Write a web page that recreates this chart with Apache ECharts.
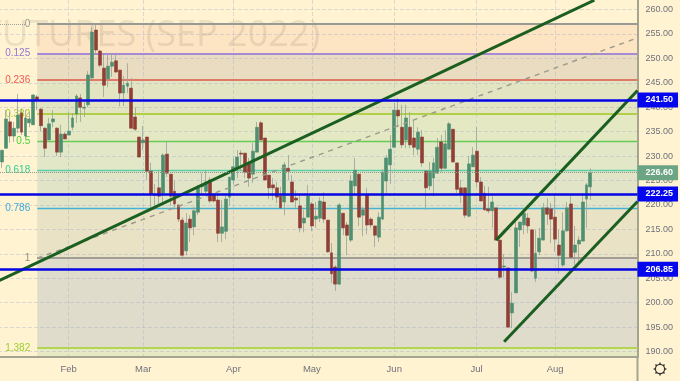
<!DOCTYPE html>
<html>
<head>
<meta charset="utf-8">
<script src="https://cdn.jsdelivr.net/npm/echarts@6/dist/echarts.min.js"></script>
<style>
  html, body { margin: 0; padding: 0; background: #fff3d1; overflow: hidden; }
  #main { width: 682px; height: 381px; margin-left: -2px; }
</style>
</head>
<body>
<div id="main"></div>
<script>
// tick labels
const monthIdx = [18, 37, 60, 80, 101, 122, 142];
const monthLabels = ['Feb', 'Mar', 'Apr', 'May', 'Jun', 'Jul', 'Aug'];
const priceTicks = [190, 195, 200, 205, 210, 215, 220, 225, 230, 235, 240, 245, 250, 255, 260];

// daily bars
const opens = [228.8,231.6,237.0,234.1,235.7,238.8,234.1,236.8,236.4,242.1,
  239.6,235.7,233.3,237.0,235.7,230.8,234.5,234.3,235.9,238.6,
  241.9,239.8,240.5,246.0,255.8,251.5,248.0,245.8,248.4,249.5,
  247.6,242.9,244.3,243.9,238.0,233.9,232.7,233.9,226.9,222.2,
  223.5,222.4,230.4,226.3,222.8,220.0,216.9,210.6,217.1,215.5,
  218.5,223.7,222.8,225.1,222.2,221.0,214.2,214.6,221.6,225.1,
  227.5,230.6,230.6,228.6,226.3,230.8,236.8,233.7,226.1,224.1,
  223.5,221.8,220.6,227.5,224.7,221.4,219.8,216.3,217.5,220.2,
  217.1,217.3,220.6,216.9,210.2,207.3,203.8,218.3,215.9,212.8,
  223.9,226.3,217.9,222.0,217.1,215.7,213.4,217.1,224.9,228.2,
  231.8,239.4,235.9,233.3,235.9,233.7,231.4,233.9,226.9,223.9,
  225.5,226.5,232.9,227.5,231.4,235.5,228.6,223.5,223.5,217.7,
  227.8,231.0,224.7,222.4,219.2,218.8,219.4,212.8,207.3,207.1,
  197.9,202.0,214.9,215.9,217.3,214.9,205.0,210.4,212.8,219.4,
  219.2,217.5,211.8,207.7,214.7,220.2,210.3,212.0,212.6,221.2,223.7];
const closes = [231.2,237.6,234.1,235.7,238.4,234.9,237.8,237.6,242.5,241.5,
  236.2,231.6,236.6,237.6,230.8,234.5,233.5,235.1,237.8,242.3,
  240.0,240.0,246.6,255.4,251.7,248.6,244.5,248.4,249.2,247.2,
  242.9,244.5,244.9,235.7,235.5,229.8,233.3,226.9,222.2,222.0,
  221.8,230.2,226.5,221.8,220.2,217.1,209.7,216.3,215.3,218.8,
  223.5,224.1,224.7,220.8,220.8,214.2,215.5,221.2,225.7,227.8,
  229.8,230.4,226.7,225.5,231.0,235.9,233.3,225.1,223.5,223.5,
  221.6,219.4,228.2,226.9,220.6,221.0,215.3,217.3,221.8,215.7,
  217.7,220.8,217.1,210.4,205.9,203.8,220.0,215.3,213.8,224.9,
  227.1,217.5,219.0,215.9,215.9,213.8,217.5,226.7,229.6,231.4,
  239.4,238.2,232.3,237.8,232.3,231.8,234.9,228.6,223.5,226.9,
  228.6,231.8,227.5,232.5,236.6,228.8,223.2,222.2,217.9,228.4,
  230.2,224.7,220.8,219.0,218.8,220.6,212.8,205.2,207.5,195.0,
  199.9,215.3,216.5,218.3,215.7,206.5,210.1,213.2,219.4,218.1,
  217.1,213.0,209.7,214.7,219.4,209.3,211.8,212.8,220.6,224.1,226.6];
const lows = [227.6,231.6,232.7,232.9,234.7,234.3,233.7,235.9,236.4,239.4,
  235.1,229.8,233.3,235.9,230.0,229.8,233.5,234.3,235.3,236.8,
  237.0,238.0,240.0,245.8,250.7,248.2,242.1,244.1,246.2,247.0,
  240.2,240.2,242.9,235.7,235.1,229.8,231.2,225.1,219.4,219.0,
  220.0,220.4,225.7,219.8,219.4,216.5,209.1,209.7,212.4,213.8,
  217.9,222.2,222.2,220.4,220.6,212.4,212.4,213.0,219.8,224.1,
  225.5,227.1,225.5,223.7,224.5,230.8,233.3,225.1,221.2,221.0,
  220.4,219.4,217.9,225.1,220.6,219.4,214.4,214.4,217.5,214.6,
  215.3,216.5,216.3,210.2,204.0,202.4,203.6,213.8,209.7,212.4,
  221.8,215.7,213.6,214.0,215.3,211.4,212.4,216.9,222.4,224.3,
  231.8,235.9,231.6,231.6,231.6,230.2,230.2,227.8,219.0,223.0,
  221.8,226.5,226.7,227.5,231.4,228.6,222.4,220.4,217.3,217.5,
  227.8,223.7,220.8,218.8,218.3,215.3,212.8,204.8,205.2,194.8,
  194.8,202.0,211.4,214.0,214.2,206.3,204.2,209.7,212.8,215.9,
  212.2,210.4,206.0,207.3,214.5,209.1,207.7,208.3,212.6,215.3,221.0];
const highs = [231.2,239.4,239.0,237.0,242.7,239.8,239.4,239.0,242.7,242.5,
  239.8,235.9,237.8,239.4,235.9,236.4,234.9,239.0,238.8,242.7,
  242.7,241.1,247.4,256.4,256.8,251.7,250.7,250.7,251.1,251.1,
  247.6,246.4,249.0,246.0,240.0,233.9,236.2,233.9,228.6,224.3,
  227.1,230.6,233.1,226.3,224.9,220.0,217.5,218.3,217.9,219.6,
  224.1,226.5,227.1,225.7,222.2,222.2,221.0,222.0,225.7,229.6,
  231.2,231.2,230.6,229.6,232.7,237.0,237.2,233.7,226.1,225.5,
  224.7,223.7,228.8,230.2,226.1,223.0,222.0,219.0,224.1,220.6,
  220.6,221.6,222.6,216.9,212.2,207.7,220.4,218.3,216.5,226.1,
  229.6,226.3,219.6,223.5,217.5,215.7,218.5,227.3,230.2,234.3,
  240.9,241.9,240.5,240.5,239.0,237.4,235.9,235.3,226.9,228.8,
  229.6,233.7,234.3,235.3,237.0,235.5,228.6,225.1,223.5,230.0,
  231.8,235.9,225.7,223.9,223.7,221.8,219.4,212.8,209.9,207.1,
  202.2,216.5,216.5,219.4,218.3,214.9,214.9,215.3,220.4,221.4,
  220.4,222.2,214.9,218.5,220.6,222.0,215.7,213.6,222.4,224.5,227.5];

// fib retracement levels
const fibNames = ['0', '0.125', '0.236', '0.382', '0.5', '0.618', '0.786', '1', '1.382'];
const fibValues = [257.0, 250.95, 245.6, 238.6, 233.0, 227.2, 219.3, 209.1, 190.7];
const fibColors = ['#9a9a94', '#a58ad6', '#e07a68', '#b0d04a', '#66cc55', '#58cfa6', '#45b3d3', '#a09e96', '#b3d455'];
const fibLabelColors = ['#9a9a94', '#9478d8', '#ee5a50', '#a8cc30', '#44d038', '#30cc98', '#42a8dc', '#8e8e88', '#9cce30'];
const fibBands = ['#fde4c2', '#e9dcc0', '#e3e4c1', '#e4e9c4', '#e1e7c7', '#e2e4c8', '#e9e2c5', '#dfdccc', '#e6e9c4'];

// horizontal price levels with tags
const blueLevels = [241.5, 222.25, 206.85];
const lastPrice = 226.6;

// drawn lines, [bar index, price]
const trendA = [[0, 204.4], [152, 261.9]];
const trendB = [[127, 212.8], [163, 243.4]];
const trendC = [[129, 192.0], [163, 220.7]];
const dashedFan = [[10, 209.1], [163, 254.2]];

const BAR_SLOTS = 164;
const categories = Array.from({ length: BAR_SLOTS }, (_, i) => {
  const k = monthIdx.indexOf(i);
  return k >= 0 ? monthLabels[k] : '';
});
const isMonth = (i) => monthIdx.includes(i);

const blank = ['-', '-', '-', '-'];
const wicks = [blank].concat(opens.map((o, i) => [o, closes[i], lows[i], highs[i]]));
const bodies = [blank].concat(opens.map((o, i) => [o, closes[i], Math.min(o, closes[i]), Math.max(o, closes[i])]));

const AXIS_COLOR = '#a5a48f';
const TEXT_COLOR = '#6f727c';
const GRID_COLOR = 'rgba(165,175,205,0.4)';
const TREND_COLOR = '#1a5e20';
const FONT = '"Liberation Sans", sans-serif';

// settings gear teeth (chart is shifted 2px left, so x carries +2)
const gearTeeth = [[662, 362.6, 662, 364.6], [662, 373.4, 662, 375.4], [655.6, 369, 657.6, 369], [666.4, 369, 668.4, 369],
  [657.5, 364.5, 658.9, 365.9], [665.1, 372.1, 666.5, 373.5], [657.5, 373.5, 658.9, 372.1], [665.1, 365.9, 666.5, 364.5]];

const tag = (bg) => ({
  show: true,
  position: 'end',
  distance: 0,
  formatter: (p) => p.value.toFixed(2),
  color: '#fff',
  fontSize: 9,
  fontWeight: 'bold',
  fontFamily: FONT,
  backgroundColor: bg,
  padding: [3, 5, 3, 8]
});

const trend = (name, data) => ({
  name,
  type: 'line',
  data,
  symbol: 'none',
  z: 6,
  silent: true,
  lineStyle: { color: TREND_COLOR, width: 3 }
});

const chart = echarts.init(document.getElementById('main'));
chart.setOption({
  animation: false,
  backgroundColor: '#fff3d1',
  grid: { left: 0, right: 42.5, top: 0, bottom: 24 },
  xAxis: {
    type: 'category',
    boundaryGap: false,
    z: 1,
    data: categories,
    axisLine: { lineStyle: { color: AXIS_COLOR, width: 2 } },
    axisTick: { show: false },
    axisLabel: { interval: isMonth, color: TEXT_COLOR, fontSize: 9.5, fontFamily: FONT, margin: 7 },
    splitLine: { show: true, interval: isMonth, lineStyle: { color: GRID_COLOR, type: 'dashed', width: 1 } }
  },
  yAxis: {
    type: 'value',
    position: 'right',
    z: 1,
    min: 188.88,
    max: 261.94,
    axisLine: { show: true, lineStyle: { color: AXIS_COLOR, width: 2 } },
    axisTick: { show: false, customValues: priceTicks },
    axisLabel: {
      customValues: priceTicks,
      formatter: (v) => v.toFixed(2),
      color: TEXT_COLOR,
      fontSize: 9,
      fontFamily: FONT,
      margin: 8
    },
    splitLine: { show: true, lineStyle: { color: GRID_COLOR, type: 'dashed', width: 1 } }
  },
  graphic: [
    {
      type: 'text', silent: true, z: 1,
      style: {
        x: 322, y: 36, text: 'FUTURES (SEP 2022)', align: 'right', verticalAlign: 'middle',
        font: '36px "Open Sans", sans-serif', fill: 'rgba(110,105,100,0.14)'
      }
    },
    {
      type: 'line', silent: true, z: 1,
      shape: { x1: 639.5, y1: 357, x2: 639.5, y2: 381 },
      style: { stroke: AXIS_COLOR, lineWidth: 2 }
    },
    {
      type: 'circle', silent: true,
      shape: { cx: 662, cy: 369, r: 4.6 },
      style: { fill: 'none', stroke: '#333', lineWidth: 1.2 }
    }
  ].concat(gearTeeth.map((t) => ({
    type: 'line', silent: true,
    shape: { x1: t[0], y1: t[1], x2: t[2], y2: t[3] },
    style: { stroke: '#333', lineWidth: 1.4 }
  }))),
  series: [
    {
      name: 'levels',
      type: 'line',
      data: [],
      silent: true,
      markArea: {
        silent: true,
        z: 0.5,
        data: fibBands.map((c, i) => [
          { coord: [10, fibValues[i]], itemStyle: { color: c } },
          { coord: [163, i < fibValues.length - 1 ? fibValues[i + 1] : 188.88] }
        ])
      },
      markLine: {
        silent: true,
        symbol: 'none',
        z: 1.5,
        data: fibNames.map((n, i) => [
          {
            coord: [10, fibValues[i]],
            lineStyle: { color: fibColors[i], width: i === 4 || i === 5 || i === 6 ? 1.3 : 2, type: 'solid' },
            label: {
              show: true, position: 'start', distance: 7, formatter: n,
              color: fibLabelColors[i], fontSize: 10, fontFamily: FONT
            }
          },
          { coord: [163, fibValues[i]] }
        ]).concat([[
          { coord: [0, fibValues[0]], lineStyle: { color: '#a0a09a', width: 1, type: 'dotted' }, label: { show: false } },
          { coord: [7, fibValues[0]] }
        ]])
      }
    },
    {
      name: 'wick',
      type: 'candlestick',
      data: wicks,
      barWidth: 1,
      silent: true,
      itemStyle: { color: '#98a398', color0: '#98a398', borderColor: '#98a398', borderColor0: '#98a398', borderWidth: 0.8 }
    },
    {
      name: 'body',
      type: 'candlestick',
      data: bodies,
      barWidth: 3.4,
      silent: true,
      itemStyle: { color: '#4f8f70', color0: '#8f3f36', borderColor: '#4f8f70', borderColor0: '#8f3f36', borderWidth: 0.6 }
    },
    {
      name: 'fan',
      type: 'line',
      data: dashedFan,
      symbol: 'none',
      z: 5,
      silent: true,
      lineStyle: { color: '#9a9a8c', width: 1.4, type: [5, 5] }
    },
    trend('trendA', trendA),
    trend('trendB', trendB),
    trend('trendC', trendC),
    {
      name: 'tags',
      type: 'line',
      data: [],
      silent: true,
      markLine: {
        silent: true,
        symbol: 'none',
        z: 7,
        data: blueLevels.map((v) => ({
          yAxis: v,
          lineStyle: { color: '#0505e6', width: 2.5, type: 'solid' },
          label: tag('#0505ee')
        })).concat([{
          yAxis: lastPrice,
          lineStyle: { color: '#8f9a8a', width: 1, type: 'dotted' },
          label: tag('#6ba583')
        }])
      }
    }
  ]
});
</script>
</body>
</html>
